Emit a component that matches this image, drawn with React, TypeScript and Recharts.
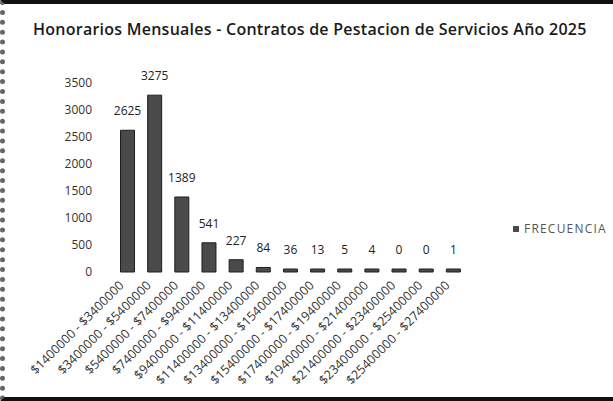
import React from 'react';
import { BarChart, Bar, XAxis, YAxis, Legend, LabelList } from 'recharts';

const rangos = [
  '$1400000 - $3400000',
  '$3400000 - $5400000',
  '$5400000 - $7400000',
  '$7400000 - $9400000',
  '$9400000 - $11400000',
  '$11400000 - $13400000',
  '$13400000 - $15400000',
  '$15400000 - $17400000',
  '$17400000 - $19400000',
  '$19400000 - $21400000',
  '$21400000 - $23400000',
  '$23400000 - $25400000',
  '$25400000 - $27400000',
];
const frecuencia = [2625, 3275, 1389, 541, 227, 84, 36, 13, 5, 4, 0, 0, 1];
const yTicks = [0, 500, 1000, 1500, 2000, 2500, 3000, 3500];

const data = rangos.map((r, i) => ({ rango: r, FRECUENCIA: frecuencia[i] }));

const font = '"Open Sans", sans-serif';

const RangoTick = (props: any) => {
  const { x, y, payload } = props;
  return (
    <g transform={`translate(${x - 6},${y + 3})`}>
      <text
        textAnchor="end"
        transform="rotate(-45)"
        dy="0.35em"
        fontSize={12.6}
        fontFamily={font}
        fill="#333"
      >
        {payload.value}
      </text>
    </g>
  );
};

const Leyenda = (props: any) => {
  const { payload = [] } = props;
  return (
    <div style={{ whiteSpace: 'nowrap' }}>
      {payload.map((p: any) => (
        <div key={p.value} style={{ display: 'flex', alignItems: 'center' }}>
          <span
            style={{
              display: 'inline-block',
              width: 6,
              height: 6,
              background: p.color,
              marginRight: 5,
            }}
          />
          <span
            style={{
              fontFamily: font,
              fontSize: 12,
              letterSpacing: 1.2,
              color: '#555',
            }}
          >
            {p.value}
          </span>
        </div>
      ))}
    </div>
  );
};

export default function App() {
  return (
    <div
      style={{
        position: 'absolute',
        left: 0,
        top: 0,
        width: 613,
        height: 401,
        background: '#fff',
        boxSizing: 'border-box',
        borderTop: '4px solid #111',
        borderBottom: '4px solid #111',
        borderLeft: '5px dotted #666',
        overflow: 'hidden',
      }}
    >
      <div
        style={{
          position: 'absolute',
          left: 28,
          top: 14,
          fontFamily: font,
          fontSize: 16,
          fontWeight: 600,
          letterSpacing: 0.25,
          color: '#1a1a1a',
          whiteSpace: 'nowrap',
        }}
      >
        Honorarios Mensuales - Contratos de Pestacion de Servicios Año 2025
      </div>
      <div style={{ position: 'absolute', left: -5, top: -4 }}>
        <BarChart
          width={613}
          height={401}
          data={data}
          margin={{ top: 83, right: 46, bottom: 6, left: 10 }}
          barCategoryGap="24%"
        >
          <XAxis
            dataKey="rango"
            axisLine={false}
            tickLine={false}
            interval={0}
            height={123}
            tick={<RangoTick />}
          />
          <YAxis
            domain={[0, 3500]}
            ticks={yTicks}
            axisLine={false}
            tickLine={false}
            tickSize={0}
            tickMargin={22}
            width={104}
            tick={{ fontSize: 12, fontFamily: font, fill: '#333' }}
          />
          <Legend
            layout="vertical"
            verticalAlign="top"
            align="right"
            content={<Leyenda />}
            wrapperStyle={{ top: 220, left: 513, width: 100 }}
          />
          <Bar
            dataKey="FRECUENCIA"
            fill="#4a4a4a"
            stroke="#1e1e1e"
            strokeWidth={1}
            minPointSize={3}
            isAnimationActive={false}
          >
            <LabelList
              dataKey="FRECUENCIA"
              position="top"
              offset={15}
              fontSize={12}
              fontFamily={font}
              fill="#222"
            />
          </Bar>
        </BarChart>
      </div>
    </div>
  );
}
